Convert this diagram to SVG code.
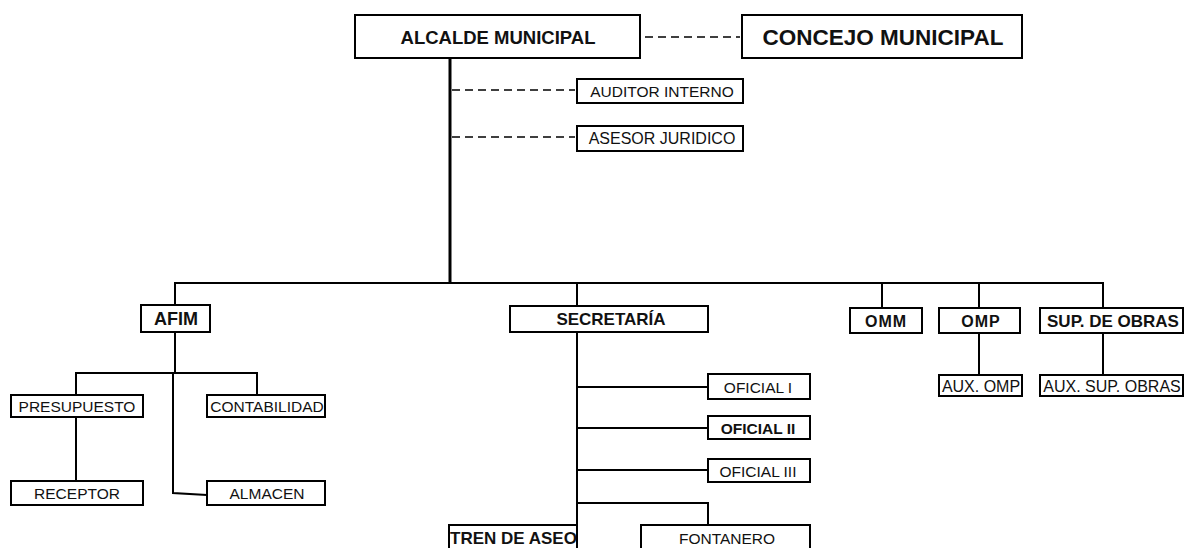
<svg xmlns="http://www.w3.org/2000/svg" width="1185" height="548" viewBox="0 0 1185 548">
<style>
.b{fill:#fff;stroke:#000;stroke-width:2}
.t{font-family:"Liberation Sans",Arial,sans-serif;font-size:15.5px;fill:#111;text-anchor:middle;dominant-baseline:central}
.tb{font-weight:bold}
.l{fill:none;stroke:#000;stroke-width:2}
.d{fill:none;stroke:#000;stroke-width:1.5;stroke-dasharray:8 5}
</style>
<defs><clipPath id="ctren"><rect x="449" y="525" width="127" height="23"/></clipPath><clipPath id="csup"><rect x="1040" y="300" width="145" height="100"/></clipPath></defs>
<rect width="1185" height="548" fill="#fff"/>
<g id="connectors">
<path class="d" d="M645 37H740M452 90H575M452 137H575"/>
<path class="l" style="stroke-width:3" d="M450 58V283"/>
<path class="l" d="M175 305V283H1103V308M577 283V306M882 283V308M979 283V308"/>
<path class="l" d="M175 332V373M76 395V373H257V395M173 373V493L207 495M76 417V481"/>
<path class="l" d="M577 332V548M577 387H708M577 428H708M577 470H708M577 503H708V525"/>
<path class="l" d="M979 333V375M1103 333V375"/>
</g>
<g id="alcalde"><rect class="b" x="355" y="15" width="285" height="43"/><text class="t tb" x="498" y="37" style="font-size:18.5px">ALCALDE MUNICIPAL</text></g>
<g id="concejo"><rect class="b" x="742" y="15" width="280" height="43"/><text class="t tb" x="883" y="37" style="font-size:22.5px">CONCEJO MUNICIPAL</text></g>
<g id="auditor"><rect class="b" x="577" y="79" width="166" height="24"/><text class="t" x="662" y="91">AUDITOR INTERNO</text></g>
<g id="asesor"><rect class="b" x="577" y="126" width="166" height="25"/><text class="t" x="662" y="138" style="font-size:16px">ASESOR JURIDICO</text></g>
<g id="afim"><rect class="b" x="141" y="305" width="69" height="27"/><text class="t tb" x="176" y="319" style="font-size:18px">AFIM</text></g>
<g id="secretaria"><rect class="b" x="510" y="306" width="198" height="26"/><text class="t tb" x="611" y="319" style="font-size:17px">SECRETARÍA</text></g>
<g id="omm"><rect class="b" x="850" y="308" width="72" height="25"/><text class="t tb" x="886" y="321" style="font-size:16px;letter-spacing:1px">OMM</text></g>
<g id="omp"><rect class="b" x="939" y="308" width="81" height="25"/><text class="t tb" x="981" y="321" style="font-size:16px;letter-spacing:1px">OMP</text></g>
<g id="supobras"><rect class="b" x="1040" y="308" width="143" height="25"/><text class="t tb" x="1113" y="321" clip-path="url(#csup)" style="font-size:17px">SUP. DE OBRAS</text></g>
<g id="presupuesto"><rect class="b" x="11" y="395" width="132" height="22"/><text class="t" x="77" y="406">PRESUPUESTO</text></g>
<g id="contabilidad"><rect class="b" x="207" y="395" width="118" height="22"/><text class="t" x="267" y="406">CONTABILIDAD</text></g>
<g id="receptor"><rect class="b" x="11" y="481" width="132" height="24"/><text class="t" x="77" y="493">RECEPTOR</text></g>
<g id="almacen"><rect class="b" x="207" y="481" width="118" height="24"/><text class="t" x="267" y="493">ALMACEN</text></g>
<g id="oficial1"><rect class="b" x="708" y="374" width="102" height="25"/><text class="t" x="758" y="387">OFICIAL  I</text></g>
<g id="oficial2"><rect class="b" x="708" y="416" width="102" height="23"/><text class="t tb" x="758" y="428">OFICIAL  II</text></g>
<g id="oficial3"><rect class="b" x="708" y="459" width="102" height="23"/><text class="t" x="758" y="471">OFICIAL  III</text></g>
<g id="tren"><rect class="b" x="449" y="525" width="128" height="26"/><text class="t tb" x="450" y="538" clip-path="url(#ctren)" style="text-anchor:start;font-size:17px">TREN DE ASEO</text></g>
<g id="fontanero"><rect class="b" x="641" y="525" width="169" height="26"/><text class="t" x="727" y="538">FONTANERO</text></g>
<g id="auxomp"><rect class="b" x="939" y="375" width="83" height="21"/><text class="t" x="981" y="386" style="font-size:16px">AUX. OMP</text></g>
<g id="auxsup"><rect class="b" x="1040" y="375" width="143" height="21"/><text class="t" x="1112" y="386" clip-path="url(#csup)" style="font-size:16px">AUX. SUP. OBRAS</text></g>
</svg>
